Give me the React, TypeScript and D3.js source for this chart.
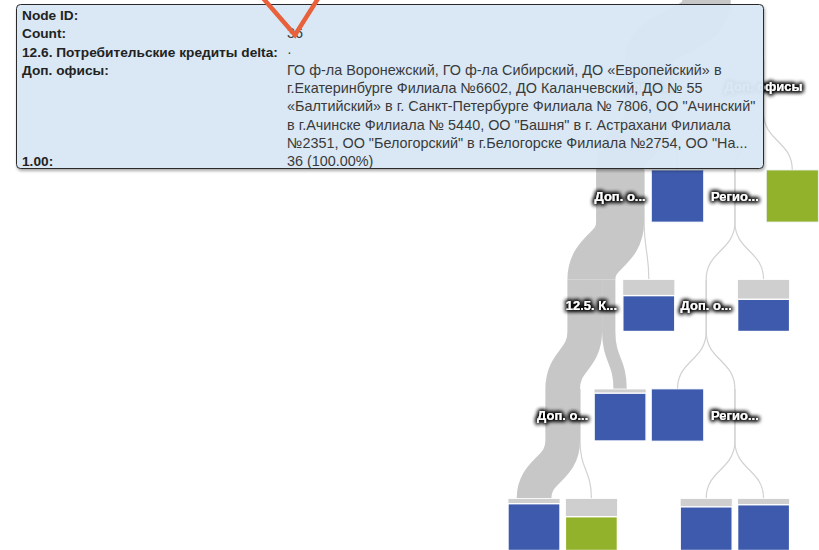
import React from 'react';
import * as d3 from 'd3';

// tree nodes (order = child order inside each parent)
const NODE_ID = ["root", "a", "a1", "a2", "a11", "a12", "a111", "a112", "a1111", "a1112",
    "b", "b1", "b2", "b11", "b12", "b111", "b112", "b1121", "b1122"];
const NODE_PARENT = ["", "root", "a", "a", "a1", "a1", "a11", "a11", "a111", "a111",
    "root", "b", "b", "b1", "b1", "b11", "b11", "b112", "b112"];
const NODE_LABEL = ["", "Доп. о...", "Доп. о...", "", "12.5. К...", "", "Доп. о...", "", "", "",
    "Доп. офисы", "Регио...", "", "Доп. о...", "", "", "Регио...", "", ""];
// highlighted cases flowing through each node
const NODE_FLOW = [36, 36, 36, 0, 36, 0, 26, 10, 26, 0,
    0, 0, 0, 0, 0, 0, 0, 0, 0];
// leaf class and share of that class
const NODE_CLASS = ["", "", "", "blue", "", "blue", "", "blue", "blue", "green",
    "", "", "green", "", "blue", "blue", "", "blue", "blue"];
const NODE_SHARE = [0, 0, 0, 1.0, 0, 0.69, 0, 0.92, 0.9, 0.65,
    0, 0, 1.0, 0, 0.62, 1.0, 0, 0.84, 0.88];

const TIP_LABELS = ["Node ID:", "Count:", "12.6. Потребительские кредиты delta:", "Доп. офисы:", "1.00:"];
const TIP_VALUES = [
    [""],
    ["36"],
    ["·"],
    [
        "ГО ф-ла Воронежский, ГО ф-ла Сибирский, ДО «Европейский» в",
        "г.Екатеринбурге Филиала №6602, ДО Каланчевский, ДО № 55",
        "«Балтийский» в г. Санкт-Петербурге Филиала № 7806, ОО \"Ачинский\"",
        "в г.Ачинске Филиала № 5440, ОО \"Башня\" в г. Астрахани Филиала",
        "№2351, ОО \"Белогорский\" в г.Белогорске Филиала №2754, ОО \"На...",
    ],
    ["36 (100.00%)"],
];

const CLASS_COLOR: Record<string, string> = { blue: "#3d5aad", green: "#91b22a" };

const W = 819;
const H = 550;
const BOX = 52;
const DX = 57.4;
const DY = 109.5;
const ROOT_X = 706.2;
const ROOT_Y = -23;
const FONT = "'Liberation Sans', Arial, sans-serif";

const App: React.FC = () => {
    const rows = NODE_ID.map((id, i) => ({
        id, parent: NODE_PARENT[i], label: NODE_LABEL[i], flow: NODE_FLOW[i],
        cls: NODE_CLASS[i], share: NODE_SHARE[i],
    }));
    const root = d3.stratify<typeof rows[0]>().id(d => d.id).parentId(d => d.parent || null)(rows);
    d3.tree<typeof rows[0]>().nodeSize([DX, DY]).separation(() => 1)(root);

    const px = (n: any) => ROOT_X + n.x;
    const py = (n: any) => ROOT_Y + n.y;
    const flowW = d3.scaleLinear().domain([0, 36]).range([0, 48]);
    const curve = d3.linkVertical<any, [number, number]>().x(d => d[0]).y(d => d[1]);

    const links: { d: string; w: number }[] = [];
    root.each((n: any) => {
        if (!n.children) return;
        let off = px(n) - flowW(n.data.flow) / 2;
        n.children.forEach((c: any) => {
            const w = flowW(c.data.flow);
            const sx = off + w / 2;
            off += w;
            const top = py(n) - BOX / 2;
            const c0 = curve({ source: [sx, py(n) + BOX / 2], target: [px(c), py(c) - BOX / 2] }) || "";
            links.push({ d: `M${sx},${top}L` + c0.slice(1), w });
        });
    });

    const nodes = root.descendants();
    const leaves = nodes.filter(n => !n.children);
    const inner = nodes.filter(n => n.children && n.data.label);
    const shareH = d3.scaleLinear().domain([0, 1]).range([0, BOX]);

    const tipX = 16.5, tipY = 4.5, tipW = 747, tipH = 164;
    const lineH = 18.25;
    let line = 0;
    const tipRows = TIP_LABELS.map((lab, i) => {
        const r = { lab, vals: TIP_VALUES[i], line };
        line += TIP_VALUES[i].length;
        return r;
    });
    // last row sits one line lower in the box
    tipRows[4].line = 8;

    return (
        <svg width={W} height={H} style={{ position: 'absolute', left: 0, top: 0, background: '#fff' }}>
            <defs>
                <filter id="halo" x="-30%" y="-80%" width="160%" height="260%">
                    <feMorphology in="SourceAlpha" operator="dilate" radius="1.2" result="d" />
                    <feGaussianBlur in="d" stdDeviation="2.2" result="b" />
                    <feFlood floodColor="#000" floodOpacity="1" />
                    <feComposite in2="b" operator="in" result="s" />
                    <feMerge>
                        <feMergeNode in="s" />
                        <feMergeNode in="s" />
                        <feMergeNode in="SourceGraphic" />
                    </feMerge>
                </filter>
                <filter id="tipShadow" x="-5%" y="-10%" width="110%" height="125%">
                    <feDropShadow dx="1" dy="2" stdDeviation="1.8" floodColor="#000" floodOpacity="0.35" />
                </filter>
            </defs>

            {links.filter(l => l.w === 0).map((l, i) => (
                <path key={'t' + i} d={l.d} fill="none" stroke="#d2d2d2" strokeWidth={1.2} />
            ))}
            {links.filter(l => l.w > 0).map((l, i) => (
                <path key={'r' + i} d={l.d} fill="none" stroke="#c7c7c7" strokeWidth={l.w} />
            ))}

            {leaves.map((n: any) => {
                const x0 = px(n) - BOX / 2;
                const y0 = py(n) - BOX / 2;
                const g = shareH(1 - n.data.share);
                return (
                    <g key={n.id}>
                        {g > 0 && <rect x={x0} y={y0} width={BOX} height={BOX} fill="#cfcfcf" stroke="#fff" strokeWidth={0.8} />}
                        <rect x={x0} y={y0 + g} width={BOX} height={BOX - g}
                            fill={CLASS_COLOR[n.data.cls]} stroke={g > 0 ? "#fff" : "#eef1f8"} strokeWidth={g > 0 ? 1.4 : 0.8} />
                    </g>
                );
            })}

            {inner.map((n: any) => (
                <text key={n.id} x={px(n)} y={py(n)} textAnchor="middle" dominantBaseline="central"
                    fontFamily={FONT} fontWeight="bold" fontSize="13px" fill="#fff" filter="url(#halo)">
                    {n.data.label}
                </text>
            ))}

            <g filter="url(#tipShadow)">
                <rect x={tipX} y={tipY} width={tipW} height={tipH} rx={4} fill="#d9e9f5" fillOpacity={0.95}
                    stroke="#2a2a2a" strokeWidth={1} />
            </g>
            <g fontFamily={FONT}>
                {tipRows.map((r, i) => (
                    <g key={i}>
                        <text x={22} y={20 + r.line * lineH} fontWeight="bold" fontSize="13.7px" fill="#222">{r.lab}</text>
                        {r.vals.map((v, j) => (
                            <text key={j} x={287} y={20 + (r.line + j) * lineH} fontSize="14.4px" fill="#3a3a3a">{v}</text>
                        ))}
                    </g>
                ))}
            </g>

            <polyline points="262,-3 295,35 319,-3" fill="none" stroke="#e8613b" strokeWidth={4.5} strokeLinejoin="miter" />
        </svg>
    );
};

export default App;
